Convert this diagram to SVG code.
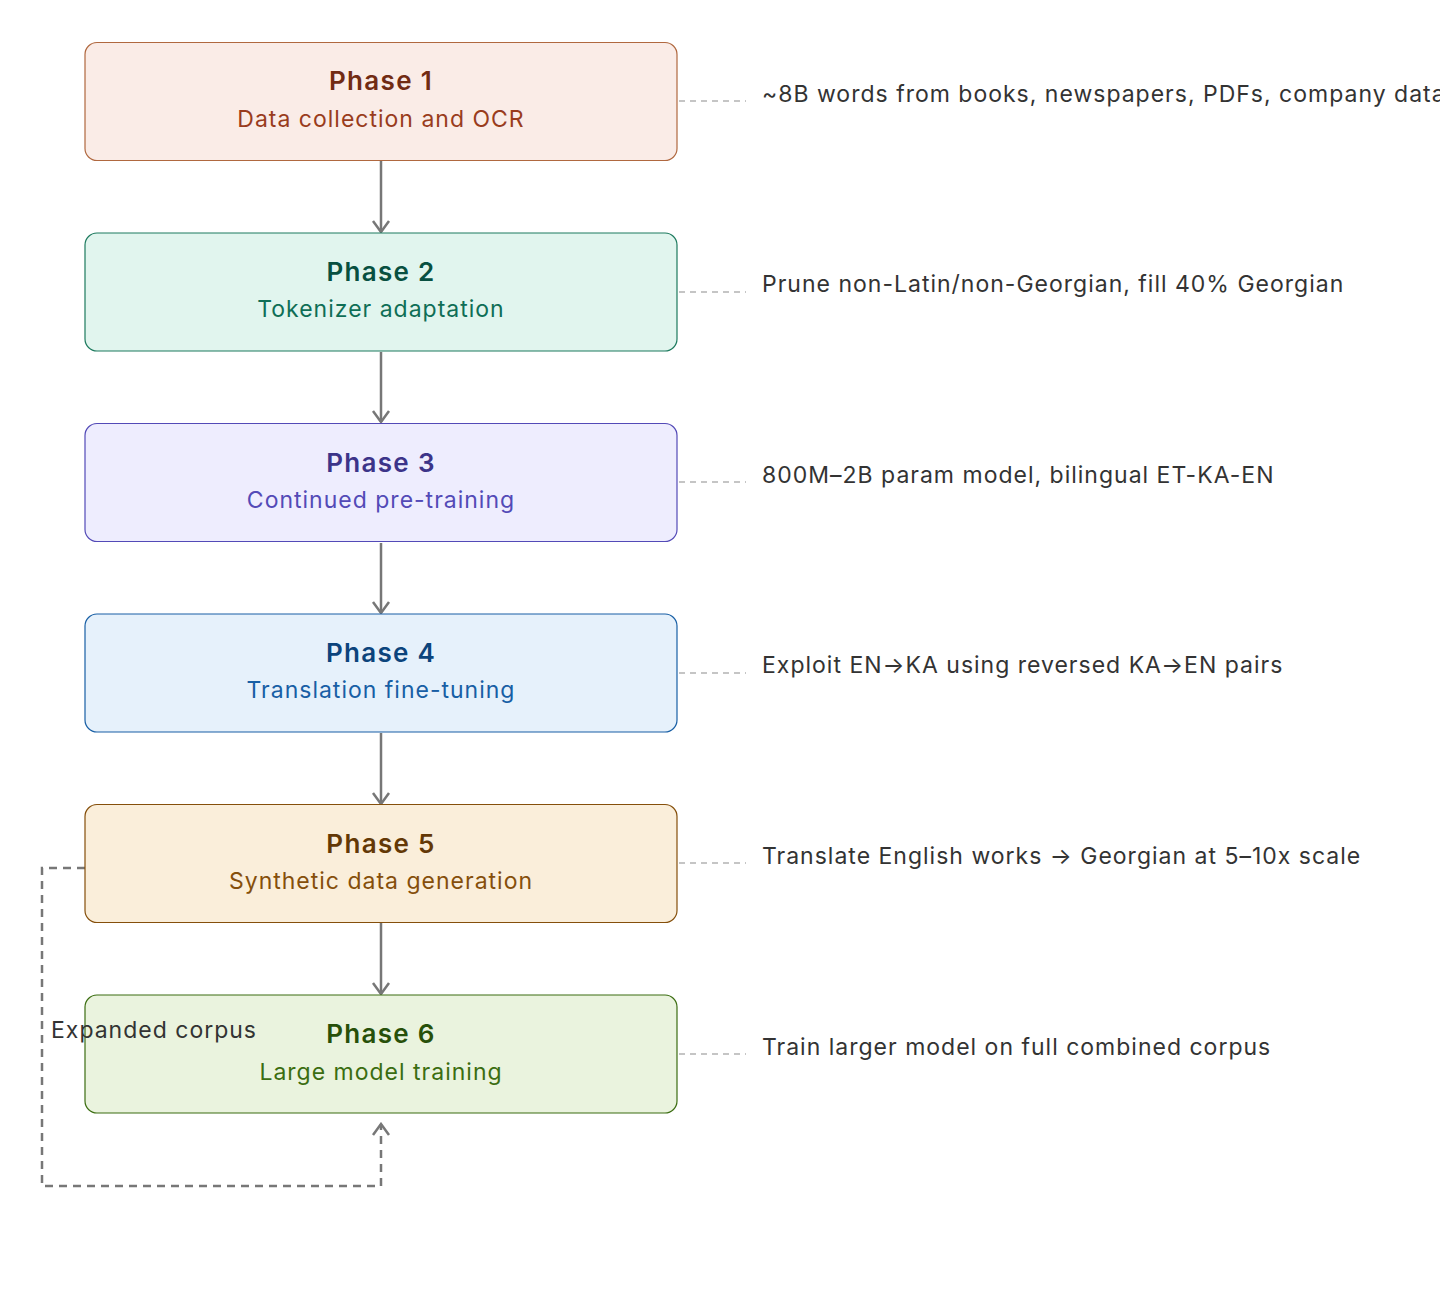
<svg xmlns="http://www.w3.org/2000/svg" width="1440" height="1312" viewBox="0 0 1440 1312">
<defs>
<style>
.box{stroke-width:1.2}
.t{font-family:Inter,"Noto Sans",sans-serif;font-size:26px;font-weight:600;text-anchor:middle;letter-spacing:1.3px}
.s{font-family:Inter,"Noto Sans",sans-serif;font-size:23px;text-anchor:middle;letter-spacing:1px}
.a{font-family:Inter,"Noto Sans",sans-serif;font-size:23px;fill:#333333;letter-spacing:1px}
.lead{stroke:#8c8c8c;stroke-width:1.2;stroke-dasharray:6 5;fill:none}
.arr{stroke:#777777;stroke-width:2.5;fill:none}
</style>
<marker id="ah2" viewBox="0 0 20 20" refX="18" refY="10" markerWidth="20" markerHeight="20" markerUnits="userSpaceOnUse" orient="auto">
<path d="M7 2 L18 10 L7 18" fill="none" stroke="#777777" stroke-width="2.5"/>
</marker>
</defs>
<rect width="1440" height="1312" fill="#ffffff"/>
<g id="connectors">
<line class="arr" x1="381" y1="161" x2="381" y2="232" marker-end="url(#ah2)"/>
<line class="arr" x1="381" y1="352" x2="381" y2="422" marker-end="url(#ah2)"/>
<line class="arr" x1="381" y1="543" x2="381" y2="613" marker-end="url(#ah2)"/>
<line class="arr" x1="381" y1="733" x2="381" y2="804" marker-end="url(#ah2)"/>
<line class="arr" x1="381" y1="923" x2="381" y2="994" marker-end="url(#ah2)"/>
<path class="arr" d="M85 868 H42 V1186 H381 V1124" stroke-dasharray="8 6" marker-end="url(#ah2)"/>
<line class="lead" x1="679" y1="101" x2="746" y2="101"/>
<line class="lead" x1="679" y1="292" x2="746" y2="292"/>
<line class="lead" x1="679" y1="482" x2="746" y2="482"/>
<line class="lead" x1="679" y1="673" x2="746" y2="673"/>
<line class="lead" x1="679" y1="863" x2="746" y2="863"/>
<line class="lead" x1="679" y1="1054" x2="746" y2="1054"/>
</g>
<g id="phase1">
<rect class="box" x="85" y="42.5" width="592" height="118" rx="12" fill="#FAECE7" stroke="#B0683F"/>
<text class="t" x="381" y="90" fill="#712B13">Phase 1</text>
<text class="s" x="381" y="127" fill="#993C1D">Data collection and OCR</text>
</g>
<g id="phase2">
<rect class="box" x="85" y="233" width="592" height="118" rx="12" fill="#E1F5EE" stroke="#1D7A5E"/>
<text class="t" x="381" y="281" fill="#085041">Phase 2</text>
<text class="s" x="381" y="317" fill="#0F6E56">Tokenizer adaptation</text>
</g>
<g id="phase3">
<rect class="box" x="85" y="423.5" width="592" height="118" rx="12" fill="#EEEDFE" stroke="#534AB7"/>
<text class="t" x="381" y="472" fill="#3C3489">Phase 3</text>
<text class="s" x="381" y="508" fill="#534AB7">Continued pre-training</text>
</g>
<g id="phase4">
<rect class="box" x="85" y="614" width="592" height="118" rx="12" fill="#E6F1FB" stroke="#185FA5"/>
<text class="t" x="381" y="662" fill="#0C447C">Phase 4</text>
<text class="s" x="381" y="698" fill="#185FA5">Translation fine-tuning</text>
</g>
<g id="phase5">
<rect class="box" x="85" y="804.5" width="592" height="118" rx="12" fill="#FAEEDA" stroke="#854F0B"/>
<text class="t" x="381" y="853" fill="#633806">Phase 5</text>
<text class="s" x="381" y="889" fill="#854F0B">Synthetic data generation</text>
</g>
<g id="phase6">
<rect class="box" x="85" y="995" width="592" height="118" rx="12" fill="#EAF3DE" stroke="#3B6D11"/>
<text class="t" x="381" y="1043" fill="#27500A">Phase 6</text>
<text class="s" x="381" y="1080" fill="#3B6D11">Large model training</text>
</g>
<g id="annotations">
<text class="a" x="762" y="102">~8B words from books, newspapers, PDFs, company data</text>
<text class="a" x="762" y="292">Prune non-Latin/non-Georgian, fill 40% Georgian</text>
<text class="a" x="762" y="483">800M–2B param model, bilingual ET-KA-EN</text>
<text class="a" x="762" y="673">Exploit EN→KA using reversed KA→EN pairs</text>
<text class="a" x="762" y="864">Translate English works → Georgian at 5–10x scale</text>
<text class="a" x="762" y="1055">Train larger model on full combined corpus</text>
<text class="a" x="51" y="1038">Expanded corpus</text>
</g>
</svg>
